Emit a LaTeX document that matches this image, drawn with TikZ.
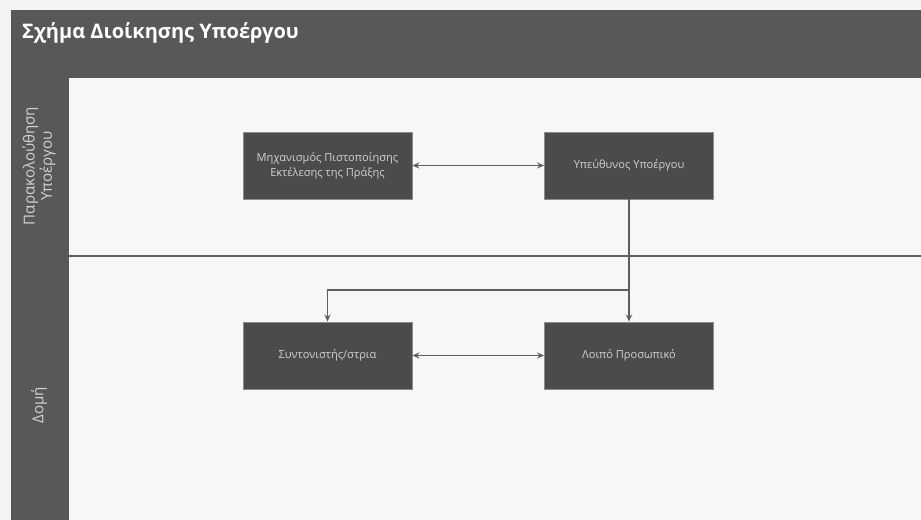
\documentclass[tikz,border=0pt]{standalone}
\usepackage{fontspec}
\setmainfont{Open Sans}
\usepackage{xcolor}
\usetikzlibrary{arrows.meta}

\definecolor{pagebg}{HTML}{F3F3F3}
\definecolor{framegrey}{HTML}{585858}
\definecolor{lanebg}{HTML}{F7F7F7}
\definecolor{boxgrey}{HTML}{4B4B4B}
\definecolor{boxedge}{HTML}{8C8C8C}
\definecolor{boxtext}{HTML}{D2D2D2}
\definecolor{linkgrey}{HTML}{5E5E5E}

\tikzset{
  unitbox/.style={draw=boxedge, line width=0.5pt, fill=boxgrey, text=boxtext,
    minimum width=3.38cm, minimum height=1.34cm, align=center,
    font=\fontsize{6.3}{8.5}\selectfont},
  link/.style={draw=linkgrey, line width=0.8pt, arrows={-Stealth[length=4pt,width=3.5pt]}},
  twoway/.style={draw=linkgrey, line width=0.8pt, arrows={Stealth[length=4pt,width=3.5pt]-Stealth[length=4pt,width=3.5pt]}},
  lanelabel/.style={text=boxtext, align=center, rotate=90,
    font=\fontsize{8.6}{9.8}\selectfont}
}

\begin{document}
\begin{tikzpicture}[x=0.02cm, y=-0.02cm]
  \useasboundingbox (0,0) rectangle (921,520);

  % page, frame and lanes
  \fill[pagebg] (0,0) rectangle (921,520);
  \fill[framegrey] (11,10) rectangle (921,520);
  \fill[lanebg] (69,78) rectangle (921,520);
  \draw[linkgrey, line width=1.2pt] (69,256) -- (921,256);

  % title and lane names
  \node[anchor=west, text=white, font=\fontsize{11.4}{14}\selectfont\bfseries] (title) at (16,33) {Σχήμα Διοίκησης Υποέργου};
  \node[lanelabel] (lanetop) at (39,166) {Παρακολούθηση\\Υποέργου};
  \node[lanelabel] (lanebottom) at (39,405) {Δομή};

  % units
  \node[unitbox] (mechanism) at (327.5,165.5) {Μηχανισμός Πιστοποίησης\\Εκτέλεσης της Πράξης};
  \node[unitbox] (head) at (629,165.5) {Υπεύθυνος Υποέργου};
  \node[unitbox] (coordinator) at (327.5,355.5) {Συντονιστής/στρια};
  \node[unitbox] (staff) at (629,355.5) {Λοιπό Προσωπικό};

  % connections
  \coordinate (split) at (629,290);
  \draw[twoway] (mechanism) -- (head);
  \draw[twoway] (coordinator) -- (staff);
  \draw[link] (head) -- (staff);
  \draw[link] (split) -| (coordinator.north);
\end{tikzpicture}
\end{document}
